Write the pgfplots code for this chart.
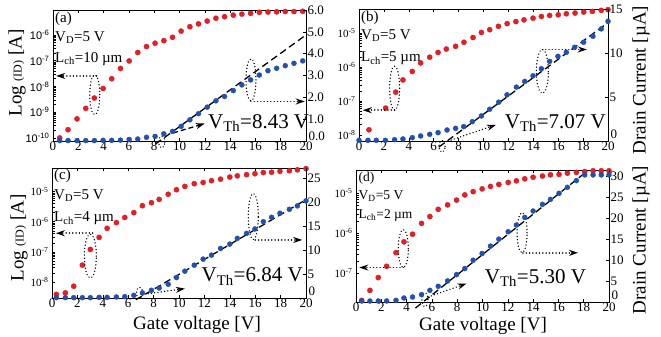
\documentclass[border=0pt]{standalone}
\usepackage{pgfplots}
\usepackage{pgfplotstable}
\pgfplotsset{compat=1.18}
\usepackage{fontspec}
\setmainfont{Liberation Serif}
\newfontfamily\sansf{Liberation Sans}
\usetikzlibrary{arrows.meta}
\definecolor{myred}{RGB}{236,28,36}
\definecolor{myblue}{RGB}{35,80,175}
\newcommand{\fs}[1]{\fontsize{#1}{#1}\selectfont}

\pgfplotstableread{
x L B
0.53 -10.00 0.02
1.19 -9.68 0.02
1.90 -9.26 0.02
2.59 -8.85 0.02
3.27 -8.45 0.02
3.96 -8.08 0.03
4.64 -7.70 0.03
5.33 -7.30 0.04
6.02 -7.01 0.07
6.70 -6.68 0.09
7.39 -6.45 0.17
8.07 -6.32 0.21
8.76 -6.22 0.33
9.45 -6.09 0.44
10.13 -5.85 0.67
10.82 -5.68 0.97
11.50 -5.57 1.25
12.19 -5.46 1.55
12.88 -5.35 1.84
13.56 -5.29 2.04
14.25 -5.23 2.31
14.93 -5.19 2.57
15.62 -5.16 2.80
16.31 -5.12 3.02
16.99 -5.11 3.22
17.68 -5.10 3.33
18.36 -5.09 3.45
19.05 -5.09 3.56
19.74 -5.08 3.67
}\tabA

\pgfplotstableread{
x L
0.80 -7.85
2.14 -7.21
2.95 -6.74
3.53 -6.38
4.28 -6.13
4.95 -5.88
5.68 -5.71
6.35 -5.57
7.01 -5.47
7.76 -5.39
8.43 -5.27
9.16 -5.13
9.83 -4.98
10.50 -4.90
11.20 -4.80
11.90 -4.72
12.60 -4.66
13.25 -4.61
13.98 -4.56
14.65 -4.51
15.31 -4.48
16.00 -4.46
16.65 -4.43
17.35 -4.41
18.05 -4.38
18.74 -4.36
19.46 -4.33
20.00 -4.31
}\tabBr

\pgfplotstableread{
x B
0.00 0.08
0.72 0.08
1.39 0.08
2.12 0.08
2.86 0.15
3.53 0.23
4.28 0.38
4.95 0.57
5.68 0.76
6.35 0.95
7.07 1.25
7.76 1.44
8.41 1.63
9.10 2.20
9.83 2.85
10.50 3.61
11.22 4.41
11.89 5.25
12.64 6.12
13.31 6.77
13.98 7.41
14.65 8.21
15.31 9.05
15.98 9.62
16.65 10.08
17.32 10.65
18.04 11.22
18.79 11.90
19.46 12.74
20.00 13.60
}\tabBb

\pgfplotstableread{
x L B
0.34 -8.41 0.07
1.05 -8.36 0.07
1.71 -8.14 0.07
2.39 -7.44 0.07
3.02 -6.92 0.07
3.71 -6.52 0.14
4.34 -6.22 0.14
5.07 -6.03 0.21
5.73 -5.86 0.28
6.44 -5.70 0.56
7.12 -5.47 1.05
7.83 -5.37 1.61
8.44 -5.26 2.09
9.15 -5.09 2.86
9.80 -4.94 4.26
10.46 -4.83 5.59
11.20 -4.74 6.84
11.90 -4.70 8.10
12.56 -4.64 8.94
13.27 -4.59 10.33
14.00 -4.52 11.24
14.59 -4.48 12.43
15.32 -4.44 13.48
15.98 -4.41 14.39
16.64 -4.37 15.92
17.29 -4.36 16.83
17.95 -4.33 17.67
18.69 -4.31 18.50
19.32 -4.28 19.20
20.00 -4.24 20.25
}\tabC

\pgfplotstableread{
x L B
0.45 -7.67 0.24
1.10 -7.42 0.24
1.76 -7.10 0.24
2.42 -6.82 0.24
3.16 -6.48 0.40
3.79 -6.21 0.95
4.47 -6.02 1.19
5.18 -5.75 1.75
5.84 -5.58 2.78
6.50 -5.40 3.74
7.24 -5.29 5.01
7.95 -5.17 6.52
8.60 -5.04 7.96
9.26 -4.96 9.94
9.97 -4.89 11.54
10.63 -4.83 13.29
11.29 -4.78 14.96
12.03 -4.73 16.71
12.68 -4.69 18.30
13.34 -4.64 20.13
14.00 -4.60 21.64
14.74 -4.57 23.23
15.37 -4.54 24.42
16.05 -4.53 25.86
16.71 -4.50 27.29
17.42 -4.48 28.88
18.08 -4.46 30.23
18.74 -4.44 30.23
19.39 -4.44 30.23
20.00 -4.44 30.23
}\tabD

\pgfplotsset{
  mybase/.style={scale only axis, anchor=north west, xmin=0, xmax=20, xtick={0,2,...,20},
    /pgf/number format/assume math mode=true,
    tick label style={font=\fs{13}}, major tick length=3pt,
    xticklabel style={inner sep=1pt},
    tick style={black, line width=0.5pt}, axis line style={line width=0.8pt}, clip=false},
  myleft/.style={mybase, ytick pos=left, yticklabel style={font=\fs{11}}},
  myright/.style={mybase, axis x line=none, axis y line*=right, ytick pos=right,
    yticklabel style={font=\fs{13}, inner sep=1.5pt},
    extra y ticks={0}, extra y tick labels={0},
    extra y tick style={yticklabel style={yshift=6.5pt, xshift=1pt}}},
  redm/.style={only marks, mark=*, mark size=2.6pt, color=myred, mark options={draw=myred!85!black, line width=0.3pt, fill=myred}},
  bluem/.style={only marks, mark=*, mark size=2.5pt, color=myblue, mark options={draw=myblue, fill=myblue}},
  fitl/.style={black, line width=1.3pt, dash pattern=on 7pt off 4pt, mark=none},
}
\tikzset{
  dotl/.style={black, line width=1.5pt, dash pattern=on 0.01pt off 3.3pt, line cap=round},
  arr/.style={-{Stealth[length=9pt,width=6pt]}},
  vth/.style={anchor=base west, font=\fs{21}, inner sep=0pt},
  ptxt/.style={anchor=base west, font=\fs{15}, inner sep=0pt},
}

\begin{document}
\begin{tikzpicture}
\useasboundingbox (0,0) rectangle (661pt,-337pt);

% ---------------- (a)
\begin{axis}[myleft, ymode=log, at={(53pt,-10pt)}, width=253pt, height=131pt,
  ymin=7.59e-11, ymax=9.33e-6,
  ytick={1e-10,1e-9,1e-8,1e-7,1e-6},
  yticklabels={10\textsuperscript{-10},10\textsuperscript{-9},10\textsuperscript{-8},10\textsuperscript{-7},10\textsuperscript{-6}},
  yticklabel style={font=\sansf\fs{11}}]
\addplot[redm] table[x=x, y expr=10^(\thisrow{L})] {\tabA};
\node[ptxt] at (rel axis cs:0.008,0.905) {(a)};
\node[ptxt] at (rel axis cs:0.008,0.76) {V\textsubscript{D}=5 V};
\node[ptxt] at (rel axis cs:0.008,0.60) {L\textsubscript{ch}=10 µm};
\end{axis}
\begin{axis}[mybase, axis x line=none, axis y line*=right, ytick pos=right,
  yticklabel style={font=\fs{13}, inner sep=1.5pt},
  at={(53pt,-10pt)}, width=253pt, height=131pt,
  ymin=0, ymax=6, ytick={1,...,6},
  yticklabels={1.0,2.0,3.0,4.0,5.0,6.0},
  extra y ticks={0}, extra y tick labels={0.0},
  extra y tick style={yticklabel style={yshift=4.5pt, xshift=1pt}}]
\addplot[bluem] table[x=x, y=B] {\tabA};
\addplot[fitl] coordinates {(8.1,-0.14) (20.1,4.90)};
\draw[dotl] (axis cs:3.3,2.12) ellipse [x radius=5pt, y radius=20pt];
\draw[dotl, arr] (axis cs:3.45,2.98) -- (axis cs:0.25,2.98);
\draw[dotl] (axis cs:15.65,2.80) ellipse [x radius=5pt, y radius=21pt];
\draw[dotl, arr] (axis cs:15.65,1.81) -- (axis cs:19.9,1.81);
\draw[dotl] (axis cs:8.6,-0.05) ellipse [x radius=3pt, y radius=6pt];
\draw[black, line width=1.3pt, dash pattern=on 5pt off 3pt, arr] (axis cs:9.5,0.37) -- (axis cs:12.0,0.80);
\node[vth] at (axis cs:12.25,0.59) {V\textsubscript{Th}=8.43 V};
\end{axis}

% ---------------- (b)
\begin{axis}[myleft, ymode=log, at={(359pt,-9pt)}, width=249pt, height=132pt,
  ymin=6.61e-9, ymax=5.13e-5,
  ytick={1e-8,1e-7,1e-6,1e-5},
  yticklabels={10\textsuperscript{-8},10\textsuperscript{-7},10\textsuperscript{-6},10\textsuperscript{-5}}]
\addplot[redm] table[x=x, y expr=10^(\thisrow{L})] {\tabBr};
\node[ptxt] at (rel axis cs:0.008,0.905) {(b)};
\node[ptxt] at (rel axis cs:0.008,0.77) {V\textsubscript{D}=5 V};
\node[ptxt] at (rel axis cs:0.008,0.60) {L\textsubscript{ch}=5 µm};
\end{axis}
\begin{axis}[myright, at={(359pt,-9pt)}, width=249pt, height=132pt,
  ymin=0, ymax=15, ytick={5,10,15}]
\addplot[bluem] table[x=x, y=B] {\tabBb};
\addplot[fitl] coordinates {(6.4,-0.70) (20.1,13.55)};
\draw[dotl] (axis cs:2.86,6.0) ellipse [x radius=5pt, y radius=22pt];
\draw[dotl, arr] (axis cs:2.86,3.5) -- (axis cs:0.3,3.5);
\draw[dotl] (axis cs:14.73,7.9) ellipse [x radius=6pt, y radius=22pt];
\draw[dotl, arr] (axis cs:14.73,10.4) -- (axis cs:18.3,10.4);
\draw[dotl] (axis cs:6.67,-0.6) ellipse [x radius=3pt, y radius=6pt];
\draw[dotl, arr] (axis cs:7.4,0.11) -- (axis cs:11.0,1.83);
\node[vth] at (axis cs:11.7,1.44) {V\textsubscript{Th}=7.07 V};
\end{axis}

% ---------------- (c)
\begin{axis}[myleft, ymode=log, at={(52pt,-168pt)}, width=254pt, height=130pt,
  ymin=2.95e-9, ymax=6.03e-5,
  ytick={1e-8,1e-7,1e-6,1e-5},
  yticklabels={10\textsuperscript{-8},10\textsuperscript{-7},10\textsuperscript{-6},10\textsuperscript{-5}}]
\addplot[redm] table[x=x, y expr=10^(\thisrow{L})] {\tabC};
\node[ptxt] at (rel axis cs:0.008,0.91) {(c)};
\node[ptxt] at (rel axis cs:0.008,0.76) {V\textsubscript{D}=5 V};
\node[ptxt] at (rel axis cs:0.008,0.585) {L\textsubscript{ch}=4 µm};
\end{axis}
\begin{axis}[myright, at={(52pt,-168pt)}, width=254pt, height=130pt,
  ymin=0, ymax=27.1, ytick={5,10,...,25}]
\addplot[bluem] table[x=x, y=B] {\tabC};
\addplot[fitl] coordinates {(6.6,-0.37) (20.0,20.5)};
\draw[dotl] (axis cs:3.02,8.73) ellipse [x radius=6pt, y radius=22pt];
\draw[dotl, arr] (axis cs:3.2,13.5) -- (axis cs:0.3,13.5);
\draw[dotl] (axis cs:15.85,17.0) ellipse [x radius=5pt, y radius=23pt];
\draw[dotl, arr] (axis cs:16.0,12.1) -- (axis cs:19.7,12.1);
\draw[dotl] (axis cs:6.9,1.0) ellipse [x radius=3pt, y radius=6pt];
\draw[dotl, arr] (axis cs:7.57,0.9) -- (axis cs:10.46,1.96);
\node[vth] at (axis cs:11.77,3.35) {V\textsubscript{Th}=6.84 V};
\end{axis}

% ---------------- (d)
\begin{axis}[myleft, ymode=log, at={(356pt,-170pt)}, width=253pt, height=132pt,
  ymin=1.95e-8, ymax=3.8e-5,
  ytick={1e-7,1e-6,1e-5},
  yticklabels={10\textsuperscript{-7},10\textsuperscript{-6},10\textsuperscript{-5}}]
\addplot[redm] table[x=x, y expr=10^(\thisrow{L})] {\tabD};
\node[ptxt, font=\fs{13.5}] at (rel axis cs:0.01,0.915) {(d)};
\node[ptxt, font=\fs{13.5}] at (rel axis cs:0.01,0.78) {V\textsubscript{D}=5 V};
\node[ptxt, font=\fs{13.5}] at (rel axis cs:0.01,0.636) {L\textsubscript{ch}=2 µm};
\end{axis}
\begin{axis}[myright, at={(356pt,-170pt)}, width=253pt, height=132pt,
  ymin=0, ymax=31.4, ytick={5,10,...,30}]
\addplot[bluem] table[x=x, y=B] {\tabD};
\addplot[fitl] coordinates {(4.7,-1.44) (18.3,31.2)};
\draw[dotl] (axis cs:3.74,12.7) ellipse [x radius=5pt, y radius=19pt];
\draw[dotl, arr] (axis cs:3.74,8.2) -- (axis cs:0.26,8.2);
\draw[dotl] (axis cs:13.13,16.5) ellipse [x radius=5pt, y radius=20pt];
\draw[dotl, arr] (axis cs:13.2,11.7) -- (axis cs:17.55,11.7);
\draw[dotl] (axis cs:5.45,0.56) ellipse [x radius=3pt, y radius=7pt];
\draw[dotl, arr] (axis cs:5.7,1.2) -- (axis cs:8.74,4.4);
\node[vth] at (axis cs:10.18,4.4) {V\textsubscript{Th}=5.30 V};
\end{axis}

% ---------------- outer labels
\node[rotate=90, font=\fs{19}] at (17pt,-73pt) {Log {\fs{12}(ID)} [A]};
\node[rotate=90, font=\fs{19}] at (19pt,-238pt) {Log {\fs{12}(ID)} [A]};
\node[rotate=90, font=\fs{19}] at (641pt,-80pt) {Drain Current [µA]};
\node[rotate=90, font=\fs{19}] at (641pt,-240pt) {Drain Current [µA]};
\node[font=\fs{19}, inner sep=1pt] at (197pt,-325pt) {Gate voltage [V]};
\node[font=\fs{19}, inner sep=1pt] at (483pt,-326pt) {Gate voltage [V]};
\end{tikzpicture}
\end{document}
